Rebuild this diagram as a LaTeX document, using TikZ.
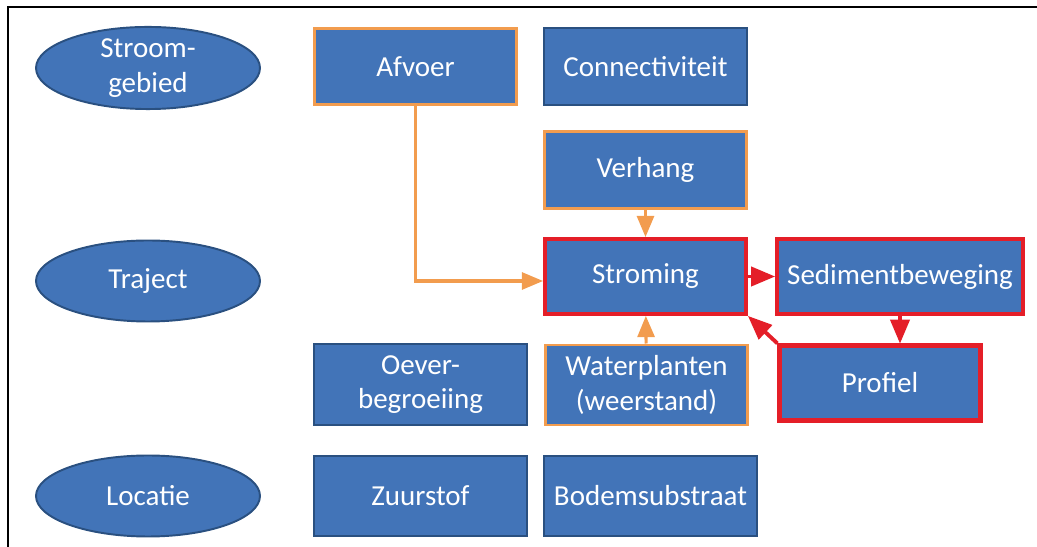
\documentclass[tikz,border=0pt]{standalone}
\usepackage{fontspec}
\setmainfont{Carlito}
\usepackage{xcolor}
\usetikzlibrary{shapes.geometric, arrows, positioning}

\definecolor{boxblue}{RGB}{66,116,184}
\definecolor{edgeblue}{RGB}{42,80,128}
\definecolor{linkorange}{RGB}{242,156,78}
\definecolor{linkred}{RGB}{228,30,40}

\begin{document}
\begin{tikzpicture}[
  font=\fontsize{16.5}{19.5}\selectfont,
  blok/.style={rectangle, draw=edgeblue, line width=1.1pt, fill=boxblue, text=white, align=center, minimum width=4.06cm, minimum height=1.55cm, inner sep=2pt},
  oranjeblok/.style={blok, draw=linkorange, line width=1.7pt, minimum width=4.04cm, minimum height=1.53cm},
  roodblok/.style={blok, draw=linkred, line width=2.4pt, minimum width=4.02cm, minimum height=1.5cm},
  schaal/.style={ellipse, draw=edgeblue, line width=1.1pt, fill=boxblue, text=white, align=center, minimum width=4.48cm, minimum height=1.62cm, inner sep=0pt},
  invloed/.style={->, >=triangle 45, line width=1.8pt, draw=linkorange},
  terug/.style={->, >=triangle 45, line width=2.2pt, draw=linkred}
]
\useasboundingbox (0,0) rectangle (20.74,10.94);
\draw[line width=1.1pt] (0.16,0) -- (0.16,10.8) -- (20.74,10.8);

% schaalniveaus
\node[schaal] (stroomgebied) at (2.96,9.58) {Stroom-\\gebied};
\node[schaal] (traject) at (2.96,5.32) {Traject};
\node[schaal] (locatie) at (2.96,1.02) {Locatie};

% factoren
\node[oranjeblok] (afvoer) at (8.31,9.61) {Afvoer};
\node[blok] (connectiviteit) at (12.91,9.61) {Connectiviteit};
\node[oranjeblok] (verhang) at (12.91,7.54) {Verhang};
\node[roodblok] (stroming) at (12.91,5.41) {Stroming};
\node[roodblok, minimum width=4.92cm] (sediment) at (18.0,5.41) {Sedimentbeweging};
\node[roodblok] (profiel) at (17.6,3.28) {Profiel};
\node[oranjeblok, minimum height=1.6cm] (waterplanten) at (12.93,3.24) {Waterplanten\\(weerstand)};
\node[blok, minimum width=4.26cm, minimum height=1.62cm] (oever) at (8.41,3.25) {Oever-\\begroeiing};
\node[blok, minimum width=4.26cm, minimum height=1.6cm] (zuurstof) at (8.41,1.02) {Zuurstof};
\node[blok, minimum width=4.26cm, minimum height=1.6cm] (bodem) at (13.01,1.02) {Bodemsubstraat};

% verbanden
\draw[invloed] (afvoer.south) |- ([yshift=-0.09cm]stroming.west);
\draw[invloed] (verhang) -- (stroming);
\draw[invloed] (waterplanten) -- (stroming);
\draw[terug] (stroming) -- (sediment);
\draw[terug] (sediment.south) -- (sediment.south |- profiel.north);
\draw[terug] (profiel.north west) -- (stroming.south east);
\end{tikzpicture}
\end{document}
